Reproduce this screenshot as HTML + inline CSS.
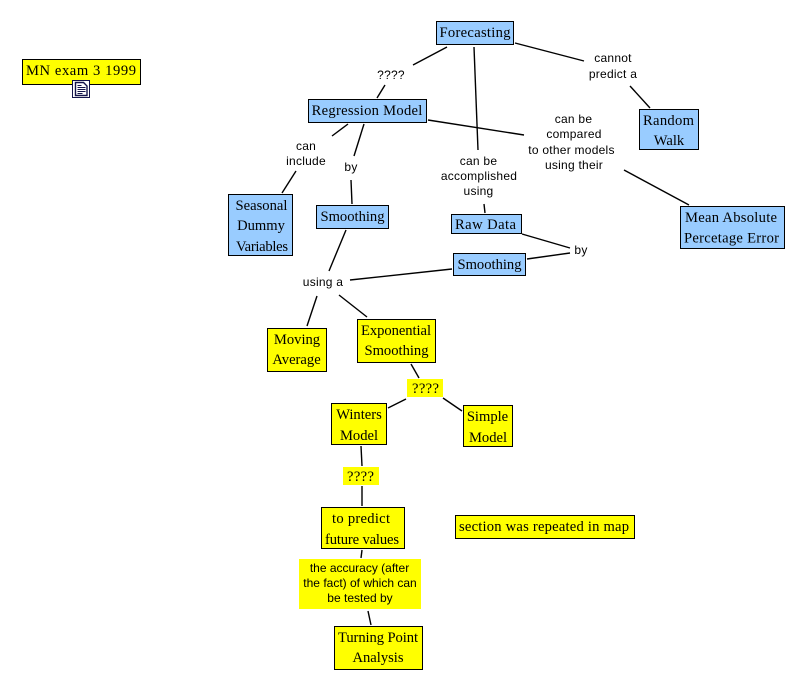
<!DOCTYPE html>
<html><head><meta charset="utf-8">
<style>
html,body{margin:0;padding:0;background:#fff}
svg{display:block}
.n{font-family:"Liberation Serif",serif;font-size:14.6px;fill:#000;text-anchor:middle}
.l{font-family:"Liberation Sans",sans-serif;font-size:12px;fill:#000;text-anchor:middle;letter-spacing:.25px}
rect.b{fill:#99ccff;stroke:#000;stroke-width:1}
rect.y{fill:#ffff00;stroke:#000;stroke-width:1}
line{stroke:#000;stroke-width:1.4}
</style></head><body>
<svg width="806" height="691" viewBox="0 0 806 691" xmlns="http://www.w3.org/2000/svg">
<rect width="806" height="691" fill="#fff"/>
<g>
<line x1="447" y1="47" x2="413" y2="65"/><line x1="385" y1="85" x2="377" y2="98"/>
<line x1="474" y1="47" x2="478" y2="150"/><line x1="484" y1="204" x2="485" y2="213"/>
<line x1="515" y1="43" x2="584" y2="61"/><line x1="630" y1="86" x2="650" y2="108"/>
<line x1="428" y1="120" x2="524" y2="135"/><line x1="624" y1="170" x2="689" y2="205"/>
<line x1="348" y1="124" x2="332" y2="136"/><line x1="296" y1="171" x2="282" y2="193"/>
<line x1="364" y1="124" x2="354" y2="156"/><line x1="351" y1="180" x2="352" y2="204"/>
<line x1="346" y1="230" x2="329" y2="271"/><line x1="350" y1="280" x2="452" y2="269"/>
<line x1="522" y1="234" x2="570" y2="248"/><line x1="527" y1="259" x2="570" y2="253"/>
<line x1="317" y1="296" x2="307" y2="326"/><line x1="339" y1="295" x2="367" y2="317"/>
<line x1="411" y1="364" x2="419" y2="378"/><line x1="406" y1="399" x2="388" y2="408"/>
<line x1="443" y1="398" x2="462" y2="411"/><line x1="361" y1="446" x2="362" y2="466"/>
<line x1="362" y1="486" x2="362" y2="506"/><line x1="362" y1="550" x2="361" y2="558"/>
<line x1="368" y1="611" x2="371" y2="625"/>
</g>

<rect class="y" x="22.5" y="59.5" width="118" height="25"/>
<text class="n" x="81" y="75" textLength="110">MN exam 3 1999</text>
<rect x="72.5" y="80.5" width="17" height="17" fill="#fff" stroke="#14144a"/>
<path d="M75.500 82.500h8l3.500 3.500v9.500h-11.500z" fill="#fff" stroke="#14144a" stroke-width="1.4"/>
<path d="M77.500 85.500h4M77.500 87.500h8M77.500 89.500h8M77.500 91.500h8M77.500 93.500h5" stroke="#14144a" stroke-width="1" fill="none"/>

<rect class="b" x="436.5" y="21.5" width="77" height="23"/>
<text class="n" x="475" y="37" textLength="71">Forecasting</text>
<rect class="b" x="308.5" y="99.5" width="118" height="23"/>
<text class="n" x="367" y="115" textLength="110.700">Regression Model</text>
<rect class="b" x="228.5" y="194.5" width="64" height="61"/>
<text class="n" x="261.500" y="210">Seasonal</text><text class="n" x="261" y="230">Dummy</text><text class="n" x="262" y="251" textLength="52">Variables</text>
<rect class="b" x="316.5" y="205.5" width="72" height="23"/>
<text class="n" x="352.5" y="221">Smoothing</text>
<rect class="b" x="451.5" y="214.5" width="70" height="19"/>
<text class="n" x="485.500" y="229" textLength="61">Raw Data</text>
<rect class="b" x="453.5" y="253.5" width="72" height="22"/>
<text class="n" x="489.5" y="269">Smoothing</text>
<rect class="b" x="639.5" y="109.5" width="59" height="40"/>
<text class="n" x="668.500" y="125" textLength="51">Random</text><text class="n" x="669" y="145">Walk</text>
<rect class="b" x="680.5" y="206.5" width="104" height="42"/>
<text class="n" x="731" y="222" textLength="92">Mean Absolute</text><text class="n" x="731.500" y="242.500" textLength="95">Percetage Error</text>

<rect class="y" x="267.500" y="328.500" width="59" height="43"/>
<text class="n" x="297" y="344">Moving</text><text class="n" x="296.500" y="364">Average</text>
<rect class="y" x="357.500" y="319.500" width="78" height="43"/>
<text class="n" x="396" y="335" textLength="70">Exponential</text><text class="n" x="396.500" y="355">Smoothing</text>
<rect class="y" x="331.500" y="403.500" width="55" height="41"/>
<text class="n" x="359" y="419">Winters</text><text class="n" x="359" y="440">Model</text>
<rect class="y" x="463.500" y="405.500" width="49" height="41"/>
<text class="n" x="487.500" y="421">Simple</text><text class="n" x="488" y="442">Model</text>
<rect class="y" x="321.500" y="507.500" width="83" height="41"/>
<text class="n" x="361" y="523" textLength="58">to predict</text><text class="n" x="362" y="544" textLength="74">future values</text>
<rect class="y" x="334.500" y="626.500" width="88" height="43"/>
<text class="n" x="378" y="642" textLength="80">Turning Point</text><text class="n" x="378" y="662">Analysis</text>
<rect class="y" x="455.500" y="515.500" width="179" height="23"/>
<text class="n" x="544" y="531" textLength="170">section was repeated in map</text>

<rect x="407" y="379" width="36" height="18" fill="#ffff00"/>
<text class="n" x="425.500" y="393" textLength="27">????</text>
<rect x="343" y="467" width="36" height="18" fill="#ffff00"/>
<text class="n" x="360.500" y="481" textLength="27">????</text>
<rect x="299" y="559" width="122" height="50" fill="#ffff00"/>
<text class="l" style="letter-spacing:0" x="359.500" y="572">the accuracy (after</text><text class="l" style="letter-spacing:0" x="360" y="587">the fact) of which can</text><text class="l" style="letter-spacing:0" x="360" y="602">be tested by</text>

<text class="l" x="391" y="79">????</text>
<text class="l" x="306" y="150">can</text><text class="l" x="306" y="165">include</text>
<text class="l" x="351" y="171">by</text>
<text class="l" x="478.500" y="165">can be</text><text class="l" x="479" y="180">accomplished</text><text class="l" x="478.500" y="195">using</text>
<text class="l" x="613" y="62">cannot</text><text class="l" x="613" y="78">predict a</text>
<text class="l" x="573.500" y="123">can be</text><text class="l" x="574" y="138">compared</text><text class="l" x="571.500" y="154">to other models</text><text class="l" x="574" y="169">using their</text>
<text class="l" x="581" y="254">by</text>
<text class="l" x="323" y="286">using a</text>
</svg>
</body></html>
